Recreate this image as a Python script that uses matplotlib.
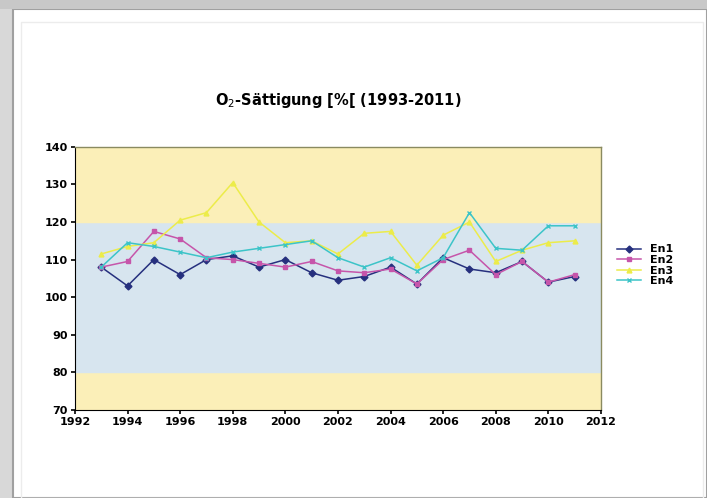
import matplotlib.pyplot as plt
from matplotlib.patches import Rectangle

# ---- data ----
years = list(range(1993, 2012))
en1 = [108, 103, 110, 106, 110, 111, 108, 110, 106.5, 104.5, 105.5, 108, 103.5, 110.5, 107.5, 106.5, 109.5, 104, 105.5]
en2 = [108, 109.5, 117.5, 115.5, 110.5, 110, 109, 108, 109.5, 107, 106.5, 107.5, 103.5, 110, 112.5, 106, 109.5, 104, 106]
en3 = [111.5, 113.5, 114.5, 120.5, 122.5, 130.5, 120, 114.5, 115, 111.5, 117, 117.5, 108.5, 116.5, 120, 109.5, 112.5, 114.5, 115]
en4 = [108, 114.5, 113.5, 112, 110.5, 112, 113, 114, 115, 110.5, 108, 110.5, 107, 110.5, 122.5, 113, 112.5, 119, 119]

series = [("En1", en1, "#26307e", "D"),
          ("En2", en2, "#c655aa", "s"),
          ("En3", en3, "#ecec4a", "^"),
          ("En4", en4, "#3cc4c8", "x")]

xticks = list(range(1992, 2013, 2))
yticks = list(range(70, 141, 10))

fig = plt.figure(figsize=(7.07, 4.98), dpi=100)
fig.patch.set_facecolor("#d8d8d8")

# window frame look (behind the axes)
fig.add_artist(Rectangle((0.018, 0.0), 0.982, 0.982, transform=fig.transFigure,
                         facecolor="white", edgecolor="#a0a0a0", lw=1.5,
                         zorder=-10))
fig.add_artist(Rectangle((0.0, 0.982), 1.0, 0.018, transform=fig.transFigure,
                         facecolor="#c8c8c8", edgecolor="none", zorder=-10))
fig.add_artist(Rectangle((0.03, 0.0), 0.965, 0.955, transform=fig.transFigure,
                         facecolor="none", edgecolor="#ececec", lw=1.0,
                         zorder=-9))

ax = fig.add_axes([0.106, 0.177, 0.744, 0.528])

# background bands
ax.axhspan(70, 80, color="#fbefb8", zorder=0)
ax.axhspan(80, 120, color="#d7e5ef", zorder=0)
ax.axhspan(120, 140, color="#fbefb8", zorder=0)

for name, vals, col, mk in series:
    ax.plot(years, vals, color=col, marker=mk, markersize=3.5, lw=1.1,
            label=name, zorder=3)

ax.set_xlim(1992, 2012)
ax.set_ylim(70, 140)
ax.set_xticks(xticks)
ax.set_yticks(yticks)
ax.tick_params(axis="both", labelsize=8, length=3, width=1.2, pad=2)
for lab in ax.get_xticklabels() + ax.get_yticklabels():
    lab.set_fontweight("bold")

for s in ["top", "right"]:
    ax.spines[s].set_color("#8a8a60")
    ax.spines[s].set_linewidth(1.0)
ax.spines["left"].set_color("black")
ax.spines["bottom"].set_color("black")

ax.set_title("O$_2$-Sättigung [%[ (1993-2011)", fontsize=10.5,
             fontweight="bold", pad=30)

ax.legend(loc="center left", bbox_to_anchor=(1.02, 0.55), frameon=False,
          handlelength=2.2, labelspacing=0.05, borderpad=0,
          prop={"weight": "bold", "size": 8})

fig.savefig("out.png", dpi=100)
